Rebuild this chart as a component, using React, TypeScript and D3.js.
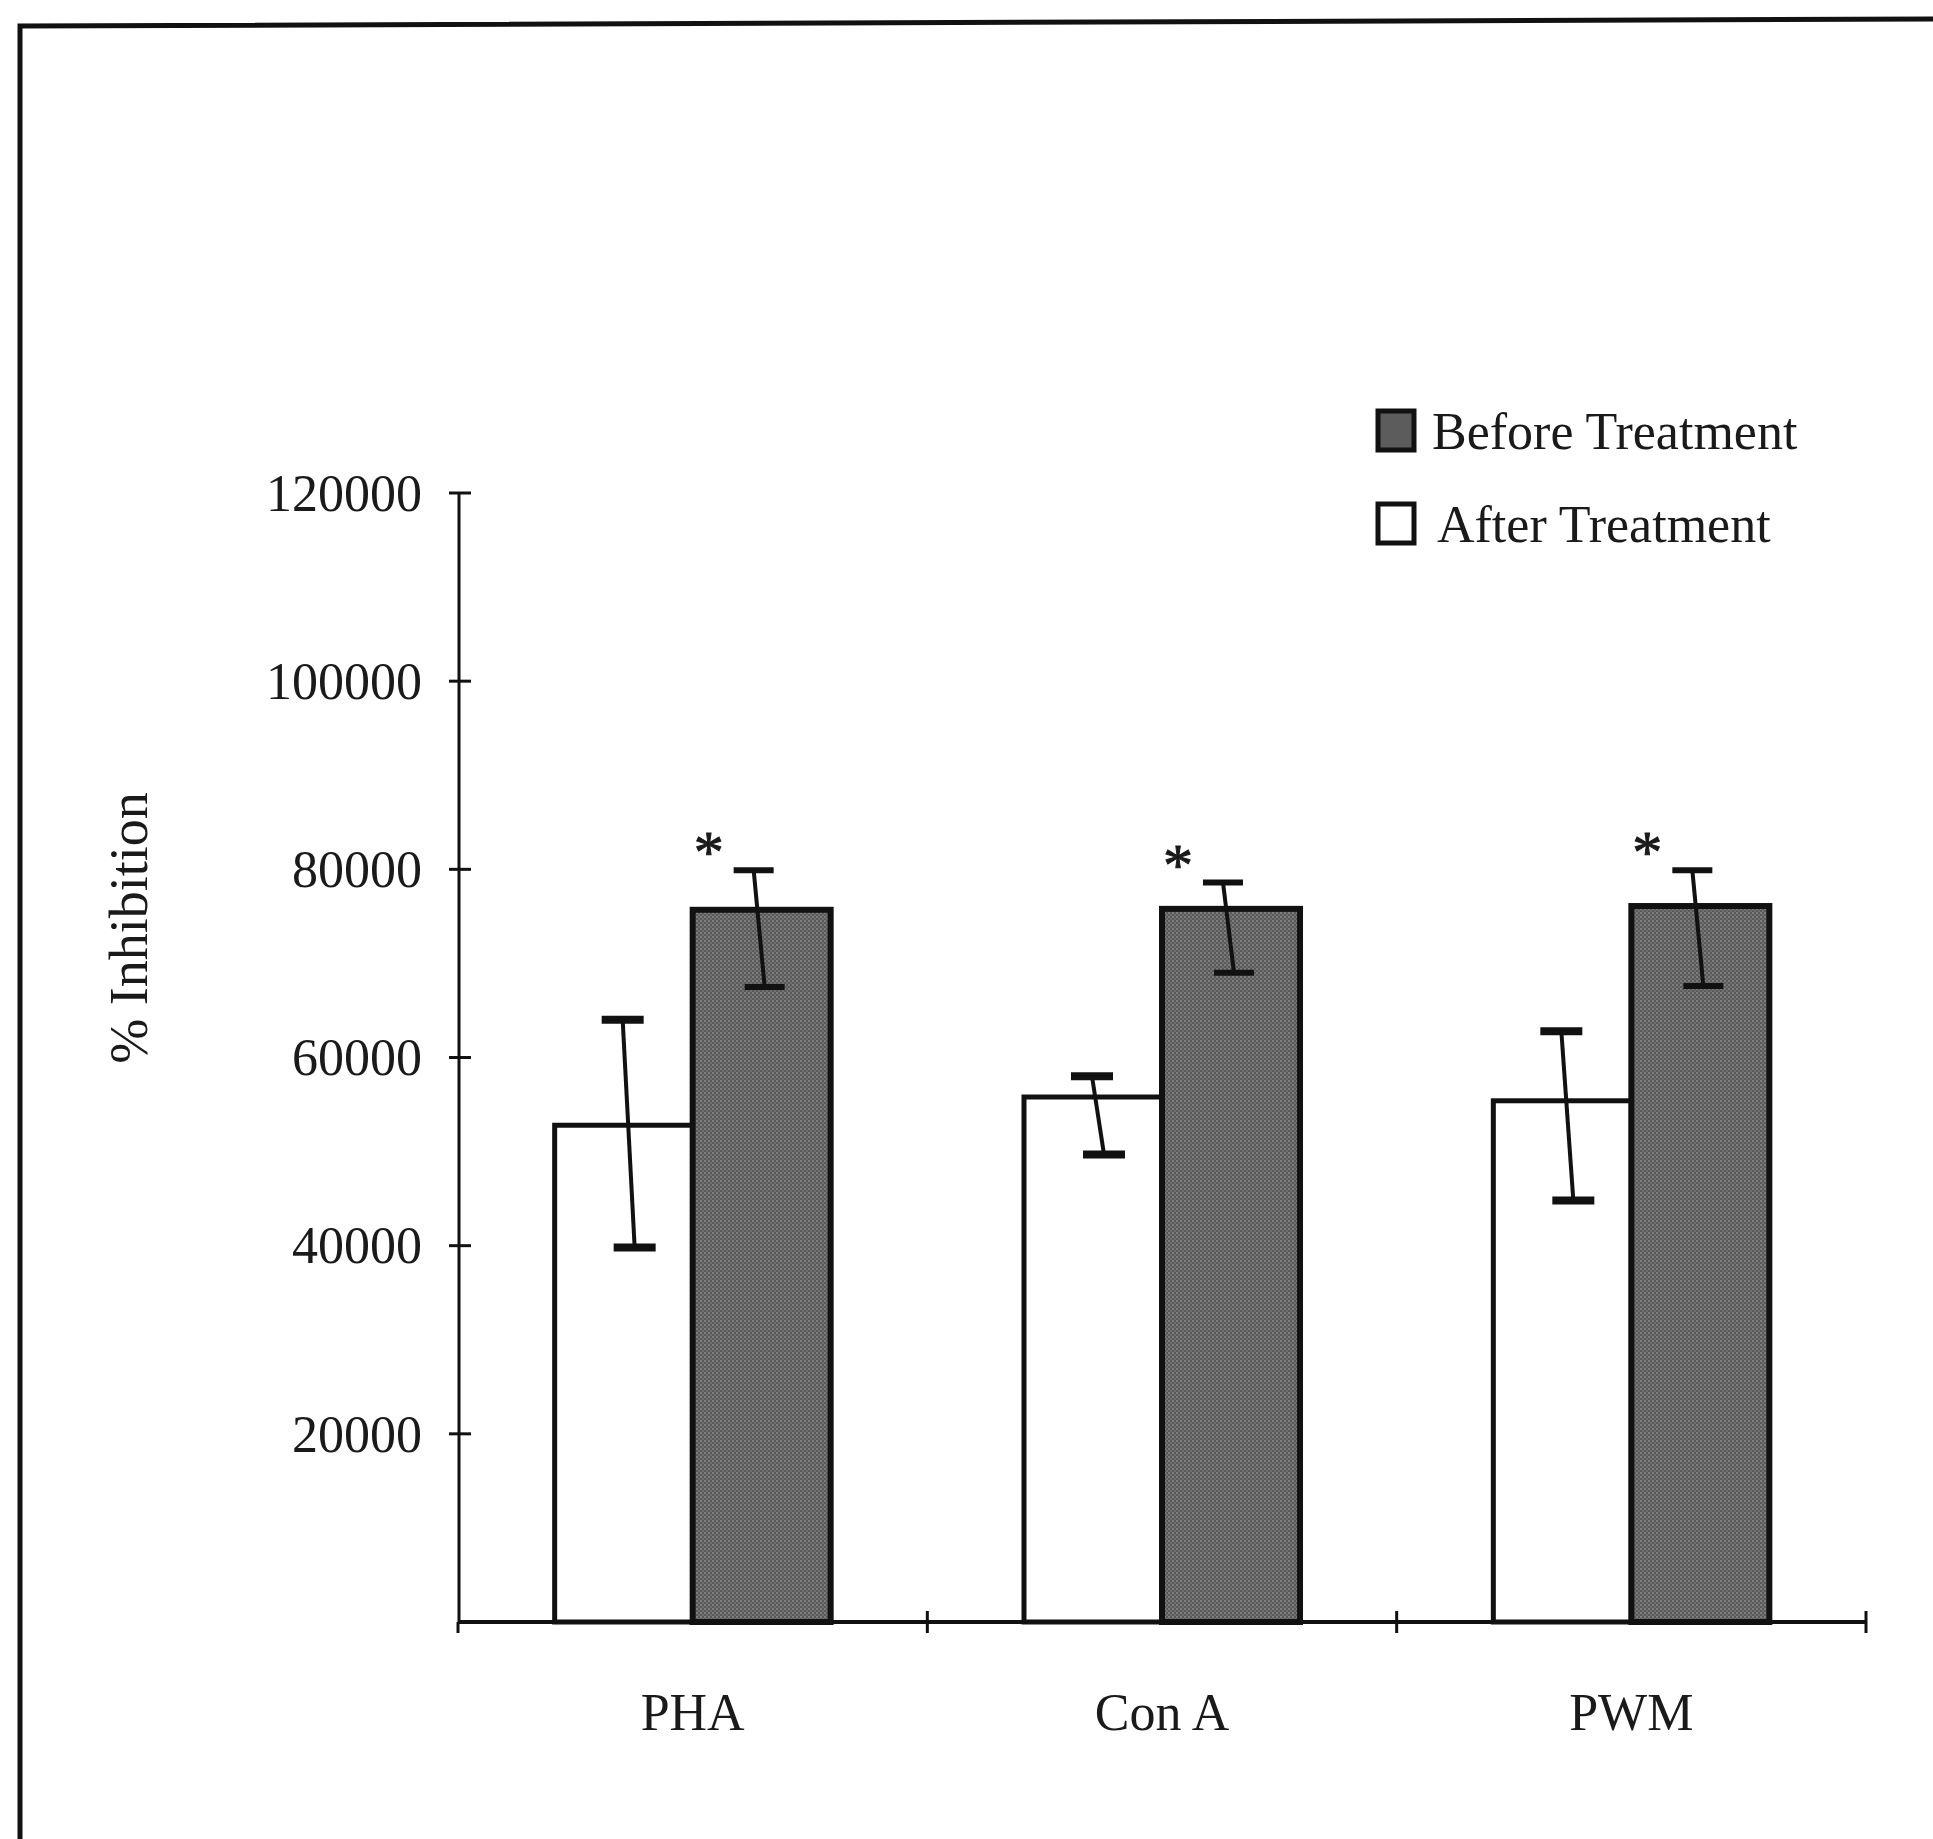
import React from 'react';
import * as d3 from 'd3';

// ---- data ----
const categories = ['PHA', 'Con A', 'PWM'];
const afterValues = [52800, 55800, 55400];
const afterHigh = [64000, 58000, 62800];
const afterLow = [39800, 49700, 44800];
const beforeValues = [75700, 75800, 76100];
const beforeHigh = [79900, 78600, 79900];
const beforeLow = [67500, 69000, 67600];
const significant = [true, true, true];
const yTicks = [20000, 40000, 60000, 80000, 100000, 120000];
const seriesNames = ['Before Treatment', 'After Treatment'];
const yLabel = '% Inhibition';

// ---- layout / style ----
const W = 1933;
const H = 1839;
const FONT = "'Liberation Serif', 'Times New Roman', Times, serif";
const FS = 52;

export default function App() {
  const y = d3.scaleLinear().domain([0, 120000]).range([1622, 493]);
  const x = d3.scaleBand<string>().domain(categories).range([458, 1866]).padding(0);
  const sub = d3.scaleBand<string>().domain(['after', 'before']).range([-138, 138]).padding(0);
  const axisX = 459;
  const y0 = y(0);

  const series = [
    { key: 'after', values: afterValues, hi: afterHigh, lo: afterLow, fill: '#ffffff', stroke: 5, capW: 42, capT: 8, topOff: -1, botOff: 11 },
    { key: 'before', values: beforeValues, hi: beforeHigh, lo: beforeLow, fill: 'url(#stipple)', stroke: 6, capW: 40, capT: 6, topOff: -8, botOff: 3 },
  ];

  const boundaries = [...categories.map((c) => x(c) as number), (x(categories[categories.length - 1]) as number) + x.bandwidth()];

  return (
    <div style={{ position: 'absolute', left: 0, top: 0 }}>
      <svg width={W} height={H} viewBox={`0 0 ${W} ${H}`} style={{ display: 'block', background: '#fff' }}>
        <defs>
          <pattern id="stipple" width={4} height={4} patternUnits="userSpaceOnUse">
            <rect width={4} height={4} fill="#5a5a5a" />
            <circle cx={1} cy={1} r={0.9} fill="#8e8e8e" />
            <circle cx={3} cy={3} r={0.9} fill="#7a7a7a" />
          </pattern>
        </defs>
        <rect width={W} height={H} fill="#ffffff" />

        {/* frame */}
        <path d={`M20,${H} L20,26 L${W},19`} fill="none" stroke="#111" strokeWidth={5} />

        {/* y axis */}
        <line x1={axisX} x2={axisX} y1={y(120000)} y2={y0} stroke="#111" strokeWidth={3} />
        {yTicks.map((t) => (
          <g key={t}>
            <line x1={axisX - 10} x2={axisX + 12} y1={y(t)} y2={y(t)} stroke="#111" strokeWidth={3} />
            <text x={422} y={y(t)} dy="0.34em" textAnchor="end" fontFamily={FONT} fontSize={FS} fill="#1a1a1a">
              {t}
            </text>
          </g>
        ))}
        <text
          transform={`translate(147, 928) rotate(-90)`}
          textAnchor="middle"
          fontFamily={FONT}
          fontSize={54}
          fill="#1a1a1a"
        >
          {yLabel}
        </text>

        {/* bars */}
        {categories.map((c, i) => {
          const cx = (x(c) as number) + x.bandwidth() / 2;
          return (
            <g key={c}>
              {series.map((s) => (
                <rect
                  key={s.key}
                  x={cx + (sub(s.key) as number)}
                  y={y(s.values[i])}
                  width={sub.bandwidth()}
                  height={y0 - y(s.values[i])}
                  fill={s.fill}
                  stroke="#111"
                  strokeWidth={s.stroke}
                />
              ))}
            </g>
          );
        })}

        {/* x axis */}
        <line x1={boundaries[0]} x2={boundaries[boundaries.length - 1]} y1={y0} y2={y0} stroke="#111" strokeWidth={4} />
        {boundaries.map((b, i) => (
          <line key={i} x1={b} x2={b} y1={i === 0 ? y0 : y0 - 11} y2={y0 + 11} stroke="#111" strokeWidth={3} />
        ))}
        {categories.map((c) => (
          <text
            key={c}
            x={(x(c) as number) + x.bandwidth() / 2}
            y={y0 + 108}
            textAnchor="middle"
            fontFamily={FONT}
            fontSize={FS}
            fill="#1a1a1a"
          >
            {c}
          </text>
        ))}

        {/* error bars */}
        {categories.map((c, i) => {
          const gx = (x(c) as number) + x.bandwidth() / 2;
          return (
            <g key={c}>
              {series.map((s) => {
                const bx = gx + (sub(s.key) as number) + sub.bandwidth() / 2;
                const xt = bx + s.topOff;
                const xb = bx + s.botOff;
                return (
                  <g key={s.key}>
                    <line x1={xt} y1={y(s.hi[i])} x2={xb} y2={y(s.lo[i])} stroke="#111" strokeWidth={4} />
                    <line x1={xt - s.capW / 2} x2={xt + s.capW / 2} y1={y(s.hi[i])} y2={y(s.hi[i])} stroke="#111" strokeWidth={s.capT} />
                    <line x1={xb - s.capW / 2} x2={xb + s.capW / 2} y1={y(s.lo[i])} y2={y(s.lo[i])} stroke="#111" strokeWidth={s.capT} />
                  </g>
                );
              })}
              {significant[i] && (
                <text
                  x={gx + (sub('before') as number) + 16}
                  y={y(beforeHigh[i]) + 2}
                  textAnchor="middle"
                  fontFamily={FONT}
                  fontSize={60}
                  fill="#1a1a1a"
                  stroke="#1a1a1a"
                  strokeWidth={1}
                >
                  *
                </text>
              )}
            </g>
          );
        })}

        {/* legend */}
        {seriesNames.map((name, i) => {
          const ly = 411 + i * 93;
          return (
            <g key={name}>
              <rect
                x={1378}
                y={ly}
                width={36}
                height={39}
                fill={i === 0 ? '#5c5c5c' : '#ffffff'}
                stroke="#111"
                strokeWidth={5}
              />
              <text x={i === 0 ? 1432 : 1437} y={ly + 38} fontFamily={FONT} fontSize={FS} fill="#1a1a1a">
                {name}
              </text>
            </g>
          );
        })}
      </svg>
    </div>
  );
}
